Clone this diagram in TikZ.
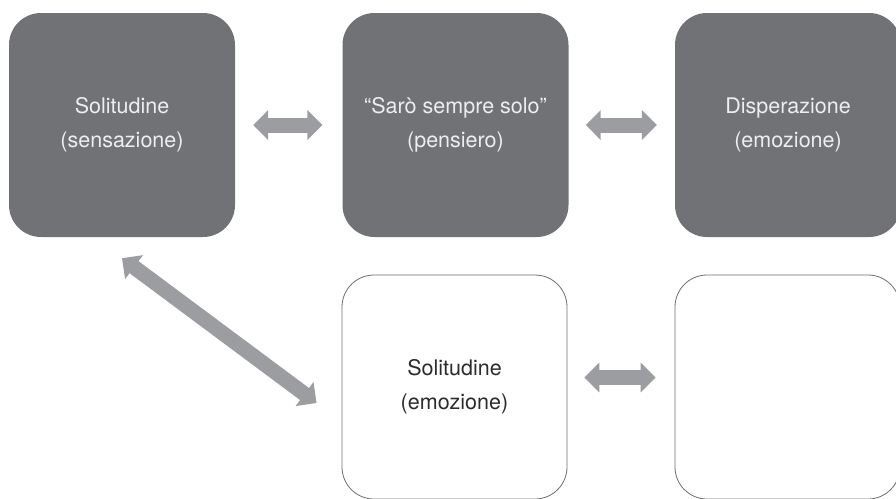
\documentclass[tikz,border=0pt]{standalone}
\usepackage{fontspec}
\setmainfont{TeX Gyre Heros}
\usetikzlibrary{arrows.meta}
\definecolor{Slate}{HTML}{717276}
\definecolor{Haze}{HTML}{9C9DA1}
\definecolor{Rim}{HTML}{6E6E6E}
\definecolor{Ink}{HTML}{2B2B2B}
\definecolor{Chalk}{HTML}{EEEEEE}
\tikzset{
  darkbox/.style={fill=Slate, text=Chalk, rounded corners=32pt, minimum width=226pt, minimum height=224pt,
    align=center, inner sep=0pt, font=\fontsize{21.5}{34}\selectfont},
  lightbox/.style={draw=Rim, line width=0.8pt, fill=white, text=Ink, rounded corners=32pt, minimum width=225pt,
    minimum height=224pt, align=center, inner sep=0pt, font=\fontsize{21.5}{34}\selectfont},
  link/.style={draw=Haze, line width=15pt, {Triangle[length=15pt,width=29pt]}-{Triangle[length=15pt,width=29pt]}},
}
\begin{document}
\begin{tikzpicture}[x=1pt,y=-1pt]
    \useasboundingbox (0,0) rectangle (896,498);
    % upper row
    \node[darkbox] (solitude) at (122,125) {Solitudine\\(sensazione)};
    \node[darkbox] (thought) at (455.5,125) {“Sarò sempre solo”\\(pensiero)};
    \node[darkbox] (despair) at (788,125) {Disperazione\\(emozione)};
    % lower row
    \node[lightbox] (feeling) at (454.5,387) {Solitudine\\(emozione)};
    \node[lightbox] (blank) at (787.5,387) {};
    % links
    \draw[link, shorten <=18pt, shorten >=20pt] (solitude) -- (thought);
    \draw[link, shorten <=17pt, shorten >=18pt] (thought) -- (despair);
    \draw[link] ([xshift=17pt,yshift=9.5pt]feeling.east) -- ([xshift=-19pt,yshift=9.5pt]blank.west);
    \draw[link] ([yshift=-21pt]solitude.south) -- ([xshift=-25pt,yshift=-16pt]feeling.west);
  \end{tikzpicture}
\end{document}
